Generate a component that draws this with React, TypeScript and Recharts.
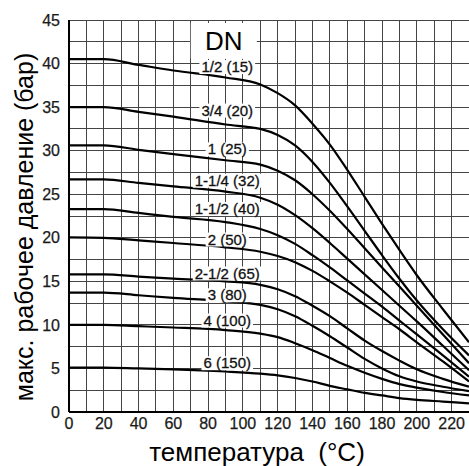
import React from 'react';
import { LineChart, Line, XAxis, YAxis, CartesianGrid, ReferenceDot, Label } from 'recharts';

const temps = [0, 20, 40, 60, 90, 110, 120, 130, 140, 150, 160, 170, 180, 190, 200, 215, 230];
const dn15 = [40.5, 40.5, 39.85, 39.2, 38.4, 37.6, 36.6, 35.2, 33.1, 30.7, 27.8, 24.7, 21.6, 18.6, 15.7, 11.8, 8.0];
const dn20 = [35.0, 35.0, 34.45, 33.9, 33.0, 32.5, 31.8, 30.6, 28.7, 26.3, 23.6, 20.8, 18.0, 15.3, 12.8, 9.5, 6.5];
const dn25 = [30.6, 30.6, 30.1, 29.6, 28.9, 28.4, 27.7, 26.6, 25.0, 23.1, 21.0, 18.8, 16.6, 14.4, 12.2, 8.9, 5.6];
const dn32 = [26.7, 26.7, 26.3, 25.9, 25.3, 24.6, 23.8, 22.6, 21.1, 19.4, 17.6, 15.8, 14.0, 12.2, 10.4, 7.6, 4.8];
const dn40 = [23.3, 23.3, 22.85, 22.4, 21.8, 21.0, 20.3, 19.3, 18.0, 16.6, 15.1, 13.6, 12.1, 10.5, 8.9, 6.5, 4.05];
const dn50 = [20.05, 20.0, 19.7, 19.4, 18.9, 18.4, 17.9, 17.2, 16.2, 15.0, 13.7, 12.3, 10.9, 9.5, 8.0, 5.8, 3.5];
const dn65 = [15.8, 15.8, 15.55, 15.3, 15.0, 14.6, 14.1, 13.3, 12.2, 11.0, 9.6, 8.2, 7.0, 5.9, 4.9, 3.8, 2.9];
const dn80 = [13.7, 13.7, 13.4, 13.1, 12.7, 12.3, 11.8, 11.0, 9.9, 8.7, 7.4, 6.1, 5.0, 4.1, 3.5, 2.9, 2.4];
const dn100 = [10.0, 10.0, 9.85, 9.7, 9.4, 9.0, 8.6, 7.9, 7.1, 6.2, 5.3, 4.5, 3.8, 3.2, 2.8, 2.3, 1.9];
const dn150 = [5.1, 5.1, 5.0, 4.9, 4.65, 4.4, 4.2, 3.9, 3.5, 3.0, 2.6, 2.2, 1.9, 1.6, 1.4, 1.2, 1.0];

const seriesKeys = ['dn15', 'dn20', 'dn25', 'dn32', 'dn40', 'dn50', 'dn65', 'dn80', 'dn100', 'dn150'];
const seriesValues = [dn15, dn20, dn25, dn32, dn40, dn50, dn65, dn80, dn100, dn150];

const curveLabels = ['1/2 (15)', '3/4 (20)', '1 (25)', '1-1/4 (32)', '1-1/2 (40)', '2 (50)', '2-1/2 (65)', '3 (80)', '4 (100)', '6 (150)'];
const labelTemp = 91;
const labelValues = [39.6, 34.6, 30.15, 26.55, 23.3, 19.8, 15.9, 13.4, 10.5, 5.6];
const dnTitle = 'DN';
const dnTemp = 89;
const dnValue = 42.6;

const xDomain = [0, 230];
const yDomain = [0, 45];
const xTicks = [0, 20, 40, 60, 80, 100, 120, 140, 160, 180, 200, 220];
const yTicks = [0, 5, 10, 15, 20, 25, 30, 35, 40, 45];
const gridX = [0, 10, 20, 30, 40, 50, 60, 70, 80, 90, 100, 110, 120, 130, 140, 150, 160, 170, 180, 190, 200, 210, 220, 230];
const gridY = [0, 2.5, 5, 7.5, 10, 12.5, 15, 17.5, 20, 22.5, 25, 27.5, 30, 32.5, 35, 37.5, 40, 42.5, 45];

const xTitle = 'температура\u00A0\u00A0(°C)';
const yTitle = 'макс. рабочее давление (бар)';

const data = temps.map((t, i) => {
  const row: Record<string, number> = { t };
  seriesKeys.forEach((k, j) => {
    row[k] = seriesValues[j][i];
  });
  return row;
});

const FONT = 'Liberation Sans, Arial, Helvetica, sans-serif';

const charW = (c: string) => {
  if (/[0-9]/.test(c)) return 0.556;
  if (c === '/' || c === ' ') return 0.278;
  if (c === '(' || c === ')' || c === '-') return 0.333;
  return 0.65;
};
const textWidth = (s: string, fs: number) => s.split('').reduce((a, c) => a + charW(c), 0) * fs;

const makeLabelShape = (text: string, fs: number, padX: number, boxH: number) => (props: any) => {
  const { cx, cy } = props;
  const w = textWidth(text, fs) + padX * 2;
  return (
    <g>
      <rect x={cx - w / 2} y={cy - boxH / 2} width={w} height={boxH} fill="#fff" />
      <text
        x={cx}
        y={cy + fs * 0.34}
        textAnchor="middle"
        fontSize={fs}
        fontFamily={FONT}
        fill="#111"
        stroke="#111"
        strokeWidth={0.3}
      >
        {text}
      </text>
    </g>
  );
};

const dnShape = (props: any) => {
  const { cx, cy } = props;
  return (
    <g>
      <rect x={cx - 33} y={cy - 18} width={66} height={36} fill="#fff" />
      <text x={cx} y={cy + 9.5} textAnchor="middle" fontSize={26} fontFamily={FONT} fill="#000">
        {dnTitle}
      </text>
    </g>
  );
};

const applyScale = (s: any, v: number): number | null => {
  if (!s) return null;
  if (typeof s === 'function') return s(v);
  if (typeof s.map === 'function') return s.map(v);
  if (typeof s.scale === 'function') return s.scale(v);
  if (typeof s.apply === 'function') return s.apply(v);
  return null;
};

const vGen = (props: any) => {
  const s = props?.xAxis?.scale;
  const off = props?.offset;
  return gridX.map((v) => {
    const r = applyScale(s, v);
    if (r != null && Number.isFinite(r)) return r;
    return off.left + ((v - xDomain[0]) / (xDomain[1] - xDomain[0])) * off.width;
  });
};
const hGen = (props: any) => {
  const s = props?.yAxis?.scale;
  const off = props?.offset;
  return gridY.map((v) => {
    const r = applyScale(s, v);
    if (r != null && Number.isFinite(r)) return r;
    return off.top + off.height - ((v - yDomain[0]) / (yDomain[1] - yDomain[0])) * off.height;
  });
};

const tickStyle = { fontSize: 16, fontFamily: FONT, fill: '#1a1a1a', stroke: '#1a1a1a', strokeWidth: 0.25 };

export default function App() {
  return (
    <div style={{ position: 'absolute', left: 0, top: 0, width: 469, height: 466, background: '#fff' }}>
      <LineChart width={469} height={466} data={data} margin={{ top: 20, right: 0, bottom: 24, left: 0 }}>
        <CartesianGrid
          stroke="#444"
          strokeWidth={1}
          shapeRendering="crispEdges"
          verticalCoordinatesGenerator={vGen}
          horizontalCoordinatesGenerator={hGen}
        />
        <XAxis
          dataKey="t"
          type="number"
          domain={xDomain}
          ticks={xTicks}
          interval={0}
          height={30}
          tickLine={false}
          tickSize={0}
          tickMargin={6}
          axisLine={{ stroke: '#000', strokeWidth: 2 }}
          tick={tickStyle}
        >
          <Label
            content={(p: any) => {
              const vb = p.viewBox || { x: 69, y: 412 };
              return (
                <text x={vb.x + 188} y={vb.y + 49} textAnchor="middle" fontSize={26} fontFamily={FONT} fill="#000">
                  {xTitle}
                </text>
              );
            }}
          />
        </XAxis>
        <YAxis
          type="number"
          domain={yDomain}
          ticks={yTicks}
          interval={0}
          width={69}
          tickLine={false}
          tickSize={0}
          tickMargin={9}
          axisLine={{ stroke: '#000', strokeWidth: 2 }}
          tick={tickStyle}
        >
          <Label
            content={(p: any) => {
              const vb = p.viewBox || { x: 0, y: 20, height: 392 };
              const cy = vb.y + 207;
              return (
                <text
                  transform={`translate(33, ${cy}) rotate(-90)`}
                  x={0}
                  y={0}
                  textAnchor="middle"
                  fontSize={25}
                  fontFamily={FONT}
                  fill="#000"
                >
                  {yTitle}
                </text>
              );
            }}
          />
        </YAxis>
        {seriesKeys.map((k) => (
          <Line
            key={k}
            dataKey={k}
            type="monotone"
            stroke="#000"
            strokeWidth={2.2}
            dot={false}
            activeDot={false}
            isAnimationActive={false}
          />
        ))}
        {curveLabels.map((lab, i) => (
          <ReferenceDot
            key={lab}
            x={labelTemp}
            y={labelValues[i]}
            r={0}
            shape={makeLabelShape(lab, 15, 2, 14)}
          />
        ))}
        <ReferenceDot x={dnTemp} y={dnValue} r={0} shape={dnShape} />
      </LineChart>
    </div>
  );
}
